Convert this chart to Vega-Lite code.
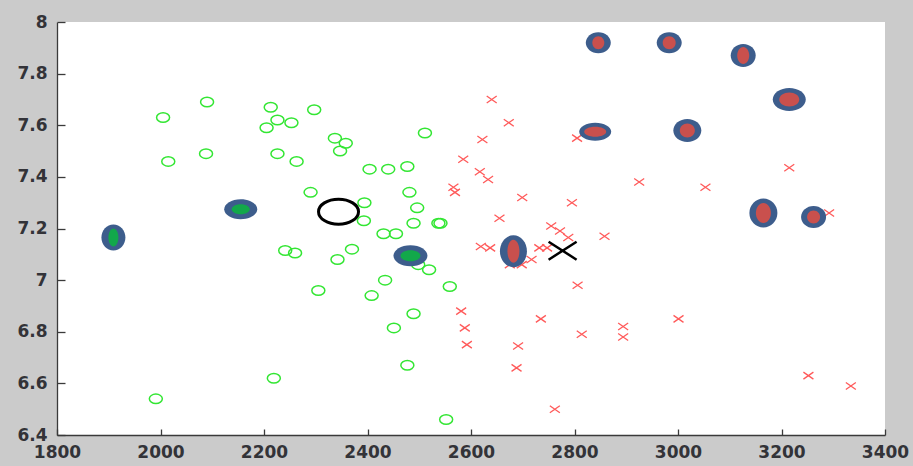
{
  "$schema": "https://vega.github.io/schema/vega-lite/v6.json",
  "width": 828,
  "height": 413,
  "autosize": {"type": "none"},
  "padding": {"left": 57, "top": 22, "right": 28, "bottom": 31},
  "background": "#cbcbcb",
  "config": {
    "view": {"fill": "white", "stroke": null},
    "axis": {
      "grid": false,
      "title": null,
      "labelFont": "DejaVu Sans",
      "labelFontSize": 17,
      "labelFontWeight": "bold",
      "labelColor": "#333338",
      "labelFlush": false,
      "labelOverlap": false,
      "domainColor": "#3a3a3a",
      "domainWidth": 1.3,
      "tickColor": "#3a3a3a",
      "tickWidth": 1.3
    }
  },
  "datasets": {
    "pts": [
      {"x": 2005, "y": 7.63, "cls": "A"},
      {"x": 2090, "y": 7.69, "cls": "A"},
      {"x": 2213, "y": 7.67, "cls": "A"},
      {"x": 2226, "y": 7.62, "cls": "A"},
      {"x": 2205, "y": 7.59, "cls": "A"},
      {"x": 2253, "y": 7.61, "cls": "A"},
      {"x": 2297, "y": 7.66, "cls": "A"},
      {"x": 2511, "y": 7.57, "cls": "A"},
      {"x": 2015, "y": 7.46, "cls": "A"},
      {"x": 2088, "y": 7.49, "cls": "A"},
      {"x": 2226, "y": 7.49, "cls": "A"},
      {"x": 2263, "y": 7.46, "cls": "A"},
      {"x": 2337, "y": 7.55, "cls": "A"},
      {"x": 2358, "y": 7.53, "cls": "A"},
      {"x": 2347, "y": 7.50, "cls": "A"},
      {"x": 2404, "y": 7.43, "cls": "A"},
      {"x": 2440, "y": 7.43, "cls": "A"},
      {"x": 2477, "y": 7.44, "cls": "A"},
      {"x": 2290, "y": 7.34, "cls": "A"},
      {"x": 2481, "y": 7.34, "cls": "A"},
      {"x": 2394, "y": 7.30, "cls": "A"},
      {"x": 2496, "y": 7.28, "cls": "A"},
      {"x": 2393, "y": 7.23, "cls": "A"},
      {"x": 2489, "y": 7.22, "cls": "A"},
      {"x": 2537, "y": 7.22, "cls": "A"},
      {"x": 2541, "y": 7.22, "cls": "A"},
      {"x": 2431, "y": 7.18, "cls": "A"},
      {"x": 2455, "y": 7.18, "cls": "A"},
      {"x": 2241, "y": 7.115, "cls": "A"},
      {"x": 2260, "y": 7.105, "cls": "A"},
      {"x": 2342, "y": 7.08, "cls": "A"},
      {"x": 2370, "y": 7.12, "cls": "A"},
      {"x": 2498, "y": 7.06, "cls": "A"},
      {"x": 2519, "y": 7.04, "cls": "A"},
      {"x": 2434, "y": 7.00, "cls": "A"},
      {"x": 2305, "y": 6.96, "cls": "A"},
      {"x": 2408, "y": 6.94, "cls": "A"},
      {"x": 2559, "y": 6.975, "cls": "A"},
      {"x": 2489, "y": 6.87, "cls": "A"},
      {"x": 2451, "y": 6.815, "cls": "A"},
      {"x": 2477, "y": 6.67, "cls": "A"},
      {"x": 2219, "y": 6.62, "cls": "A"},
      {"x": 1991, "y": 6.54, "cls": "A"},
      {"x": 2552, "y": 6.46, "cls": "A"},
      {"x": 2640, "y": 7.70, "cls": "B"},
      {"x": 2673, "y": 7.61, "cls": "B"},
      {"x": 2622, "y": 7.545, "cls": "B"},
      {"x": 2805, "y": 7.55, "cls": "B"},
      {"x": 2585, "y": 7.468, "cls": "B"},
      {"x": 2617, "y": 7.42, "cls": "B"},
      {"x": 2633, "y": 7.39, "cls": "B"},
      {"x": 2566, "y": 7.36, "cls": "B"},
      {"x": 2569, "y": 7.34, "cls": "B"},
      {"x": 2699, "y": 7.32, "cls": "B"},
      {"x": 2795, "y": 7.30, "cls": "B"},
      {"x": 2925, "y": 7.38, "cls": "B"},
      {"x": 2655, "y": 7.24, "cls": "B"},
      {"x": 2755, "y": 7.21, "cls": "B"},
      {"x": 2772, "y": 7.19, "cls": "B"},
      {"x": 2788, "y": 7.165, "cls": "B"},
      {"x": 2858, "y": 7.17, "cls": "B"},
      {"x": 2619, "y": 7.13, "cls": "B"},
      {"x": 2637, "y": 7.125, "cls": "B"},
      {"x": 2732, "y": 7.125, "cls": "B"},
      {"x": 2747, "y": 7.125, "cls": "B"},
      {"x": 2717, "y": 7.08, "cls": "B"},
      {"x": 2675, "y": 7.06, "cls": "B"},
      {"x": 2698, "y": 7.06, "cls": "B"},
      {"x": 2806, "y": 6.98, "cls": "B"},
      {"x": 2581, "y": 6.88, "cls": "B"},
      {"x": 2588, "y": 6.815, "cls": "B"},
      {"x": 2592, "y": 6.75, "cls": "B"},
      {"x": 2735, "y": 6.85, "cls": "B"},
      {"x": 2814, "y": 6.79, "cls": "B"},
      {"x": 2894, "y": 6.82, "cls": "B"},
      {"x": 2894, "y": 6.78, "cls": "B"},
      {"x": 2691, "y": 6.745, "cls": "B"},
      {"x": 2688, "y": 6.66, "cls": "B"},
      {"x": 2762, "y": 6.50, "cls": "B"},
      {"x": 3053, "y": 7.36, "cls": "B"},
      {"x": 3215, "y": 7.435, "cls": "B"},
      {"x": 3001, "y": 6.85, "cls": "B"},
      {"x": 3292, "y": 7.26, "cls": "B"},
      {"x": 3252, "y": 6.63, "cls": "B"},
      {"x": 3334, "y": 6.59, "cls": "B"}
    ],
    "ell": [
      {"id": "E1", "x": 2846, "y": 7.92, "cls": "B"},
      {"id": "E2", "x": 2983, "y": 7.92, "cls": "B"},
      {"id": "E3", "x": 3126, "y": 7.87, "cls": "B"},
      {"id": "E4", "x": 3215, "y": 7.70, "cls": "B"},
      {"id": "E5", "x": 2840, "y": 7.575, "cls": "B"},
      {"id": "E6", "x": 3018, "y": 7.58, "cls": "B"},
      {"id": "E7", "x": 3165, "y": 7.26, "cls": "B"},
      {"id": "E8", "x": 3262, "y": 7.245, "cls": "B"},
      {"id": "E9", "x": 2682, "y": 7.112, "cls": "B"},
      {"id": "G1", "x": 1909, "y": 7.165, "cls": "A"},
      {"id": "G2", "x": 2155, "y": 7.275, "cls": "A"},
      {"id": "G3", "x": 2483, "y": 7.094, "cls": "A"}
    ],
    "centers": [
      {"x": 2344, "y": 7.265, "cls": "A"},
      {"x": 2777, "y": 7.114, "cls": "B"}
    ]
  },
  "encoding": {
    "x": {
      "field": "x",
      "type": "quantitative",
      "scale": {"domain": [1800, 3400], "nice": false, "zero": false},
      "axis": {
        "values": [1800, 2000, 2200, 2400, 2600, 2800, 3000, 3200, 3400],
        "format": "d",
        "tickSize": -6,
        "labelPadding": 15
      }
    },
    "y": {
      "field": "y",
      "type": "quantitative",
      "scale": {"domain": [6.4, 8], "nice": false, "zero": false},
      "axis": {
        "values": [6.4, 6.6, 6.8, 7, 7.2, 7.4, 7.6, 7.8, 8],
        "format": "~g",
        "tickSize": -8,
        "labelPadding": 18
      }
    }
  },
  "layer": [
    {
      "data": {"name": "pts"},
      "transform": [{"filter": "datum.cls === 'A'"}],
      "mark": {
        "type": "point",
        "shape": "M-6.5,0A6.5,4.75 0 1,0 6.5,0A6.5,4.75 0 1,0 -6.5,0Z",
        "size": 4,
        "filled": false,
        "color": "#33e633",
        "strokeWidth": 1.5,
        "opacity": 1
      }
    },
    {
      "data": {"name": "pts"},
      "transform": [{"filter": "datum.cls === 'B'"}],
      "mark": {
        "type": "point",
        "shape": "M-5,-3.5L5,3.5M-5,3.5L5,-3.5",
        "size": 4,
        "filled": false,
        "color": "#ff5a5a",
        "strokeWidth": 1.3,
        "opacity": 1
      }
    },
    {
      "data": {"name": "ell"},
      "mark": {"type": "point", "size": 4, "filled": true, "color": "#3d5d8c", "opacity": 1, "strokeWidth": 0},
      "encoding": {
        "shape": {
          "field": "id",
          "type": "nominal",
          "legend": null,
          "scale": {
            "domain": ["E1", "E2", "E3", "E4", "E5", "E6", "E7", "E8", "E9", "G1", "G2", "G3"],
            "range": [
              "M-12.5,0A12.5,10.5 0 1,0 12.5,0A12.5,10.5 0 1,0 -12.5,0Z",
              "M-12.5,0A12.5,10.5 0 1,0 12.5,0A12.5,10.5 0 1,0 -12.5,0Z",
              "M-12.5,0A12.5,11.5 0 1,0 12.5,0A12.5,11.5 0 1,0 -12.5,0Z",
              "M-16.5,0A16.5,11.5 0 1,0 16.5,0A16.5,11.5 0 1,0 -16.5,0Z",
              "M-16,0A16,9 0 1,0 16,0A16,9 0 1,0 -16,0Z",
              "M-14,0A14,11.5 0 1,0 14,0A14,11.5 0 1,0 -14,0Z",
              "M-14,0A14,14.5 0 1,0 14,0A14,14.5 0 1,0 -14,0Z",
              "M-12.5,0A12.5,11 0 1,0 12.5,0A12.5,11 0 1,0 -12.5,0Z",
              "M-13.5,0A13.5,16 0 1,0 13.5,0A13.5,16 0 1,0 -13.5,0Z",
              "M-12,0A12,13 0 1,0 12,0A12,13 0 1,0 -12,0Z",
              "M-16.5,0A16.5,10 0 1,0 16.5,0A16.5,10 0 1,0 -16.5,0Z",
              "M-17,0A17,10.5 0 1,0 17,0A17,10.5 0 1,0 -17,0Z"
            ]
          }
        }
      }
    },
    {
      "data": {"name": "ell"},
      "mark": {"type": "point", "size": 4, "filled": true, "opacity": 1, "strokeWidth": 0},
      "encoding": {
        "color": {
          "field": "cls",
          "type": "nominal",
          "legend": null,
          "scale": {"domain": ["A", "B"], "range": ["#12a84a", "#c9504d"]}
        },
        "shape": {
          "field": "id",
          "type": "nominal",
          "legend": null,
          "scale": {
            "domain": ["E1", "E2", "E3", "E4", "E5", "E6", "E7", "E8", "E9", "G1", "G2", "G3"],
            "range": [
              "M-6,0A6,6.5 0 1,0 6,0A6,6.5 0 1,0 -6,0Z",
              "M-6.5,0A6.5,6.5 0 1,0 6.5,0A6.5,6.5 0 1,0 -6.5,0Z",
              "M-6,0A6,8.5 0 1,0 6,0A6,8.5 0 1,0 -6,0Z",
              "M-10,0A10,7 0 1,0 10,0A10,7 0 1,0 -10,0Z",
              "M-11,0A11,5 0 1,0 11,0A11,5 0 1,0 -11,0Z",
              "M-7.5,0A7.5,7 0 1,0 7.5,0A7.5,7 0 1,0 -7.5,0Z",
              "M-7.5,0A7.5,10 0 1,0 7.5,0A7.5,10 0 1,0 -7.5,0Z",
              "M-6.5,0A6.5,6.5 0 1,0 6.5,0A6.5,6.5 0 1,0 -6.5,0Z",
              "M-6,0A6,11.5 0 1,0 6,0A6,11.5 0 1,0 -6,0Z",
              "M-5,0A5,9 0 1,0 5,0A5,9 0 1,0 -5,0Z",
              "M-9,0A9,5 0 1,0 9,0A9,5 0 1,0 -9,0Z",
              "M-10,0A10,5.5 0 1,0 10,0A10,5.5 0 1,0 -10,0Z"
            ]
          }
        }
      }
    },
    {
      "data": {"name": "centers"},
      "transform": [{"filter": "datum.cls === 'A'"}],
      "mark": {
        "type": "point",
        "shape": "M-20,0A20,12.5 0 1,0 20,0A20,12.5 0 1,0 -20,0Z",
        "size": 4,
        "filled": false,
        "color": "#000000",
        "strokeWidth": 3,
        "opacity": 1
      }
    },
    {
      "data": {"name": "centers"},
      "transform": [{"filter": "datum.cls === 'B'"}],
      "mark": {
        "type": "point",
        "shape": "M-14,-9L14,9M-14,9L14,-9",
        "size": 4,
        "filled": false,
        "color": "#000000",
        "strokeWidth": 2.5,
        "opacity": 1
      }
    }
  ],
  "resolve": {"scale": {"shape": "independent", "color": "independent"}}
}
